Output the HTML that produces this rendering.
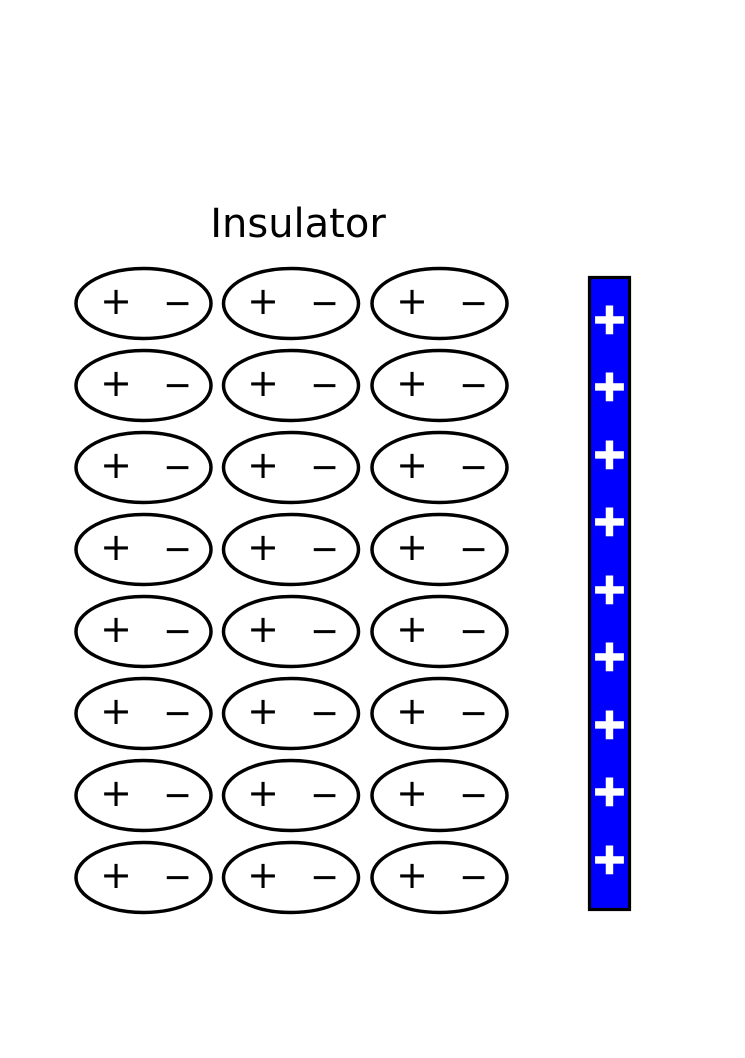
<!DOCTYPE html>
<html><head><style>html,body{margin:0;padding:0;background:#fff}</style></head>
<body>
<svg width="745" height="1053" xmlns="http://www.w3.org/2000/svg" font-family="DejaVu Sans, Liberation Sans, sans-serif">
<text x="298" y="237" font-size="40" text-anchor="middle">Insulator</text>
<g stroke="#000" stroke-width="3.5" fill="none">
  <ellipse cx="143.5" cy="303.5" rx="67.5" ry="35"/><ellipse cx="291" cy="303.5" rx="67.5" ry="35"/><ellipse cx="439.5" cy="303.5" rx="67.5" ry="35"/>
  <ellipse cx="143.5" cy="385.5" rx="67.5" ry="35"/><ellipse cx="291" cy="385.5" rx="67.5" ry="35"/><ellipse cx="439.5" cy="385.5" rx="67.5" ry="35"/>
  <ellipse cx="143.5" cy="467.5" rx="67.5" ry="35"/><ellipse cx="291" cy="467.5" rx="67.5" ry="35"/><ellipse cx="439.5" cy="467.5" rx="67.5" ry="35"/>
  <ellipse cx="143.5" cy="549.5" rx="67.5" ry="35"/><ellipse cx="291" cy="549.5" rx="67.5" ry="35"/><ellipse cx="439.5" cy="549.5" rx="67.5" ry="35"/>
  <ellipse cx="143.5" cy="631.5" rx="67.5" ry="35"/><ellipse cx="291" cy="631.5" rx="67.5" ry="35"/><ellipse cx="439.5" cy="631.5" rx="67.5" ry="35"/>
  <ellipse cx="143.5" cy="713.5" rx="67.5" ry="35"/><ellipse cx="291" cy="713.5" rx="67.5" ry="35"/><ellipse cx="439.5" cy="713.5" rx="67.5" ry="35"/>
  <ellipse cx="143.5" cy="795.5" rx="67.5" ry="35"/><ellipse cx="291" cy="795.5" rx="67.5" ry="35"/><ellipse cx="439.5" cy="795.5" rx="67.5" ry="35"/>
  <ellipse cx="143.5" cy="877.5" rx="67.5" ry="35"/><ellipse cx="291" cy="877.5" rx="67.5" ry="35"/><ellipse cx="439.5" cy="877.5" rx="67.5" ry="35"/>
</g>
<g font-size="38" text-anchor="middle" fill="#000">
  <text x="116" y="314">+</text><text x="263" y="314">+</text><text x="412" y="314">+</text>
  <text x="116" y="396">+</text><text x="263" y="396">+</text><text x="412" y="396">+</text>
  <text x="116" y="478">+</text><text x="263" y="478">+</text><text x="412" y="478">+</text>
  <text x="116" y="560">+</text><text x="263" y="560">+</text><text x="412" y="560">+</text>
  <text x="116" y="642">+</text><text x="263" y="642">+</text><text x="412" y="642">+</text>
  <text x="116" y="724">+</text><text x="263" y="724">+</text><text x="412" y="724">+</text>
  <text x="116" y="806">+</text><text x="263" y="806">+</text><text x="412" y="806">+</text>
  <text x="116" y="888">+</text><text x="263" y="888">+</text><text x="412" y="888">+</text>
</g>
<g font-size="36" fill="#000">
  <text x="163" y="315" textLength="29" lengthAdjust="spacingAndGlyphs">−</text><text x="310" y="315" textLength="29" lengthAdjust="spacingAndGlyphs">−</text><text x="459" y="315" textLength="29" lengthAdjust="spacingAndGlyphs">−</text>
  <text x="163" y="397" textLength="29" lengthAdjust="spacingAndGlyphs">−</text><text x="310" y="397" textLength="29" lengthAdjust="spacingAndGlyphs">−</text><text x="459" y="397" textLength="29" lengthAdjust="spacingAndGlyphs">−</text>
  <text x="163" y="479" textLength="29" lengthAdjust="spacingAndGlyphs">−</text><text x="310" y="479" textLength="29" lengthAdjust="spacingAndGlyphs">−</text><text x="459" y="479" textLength="29" lengthAdjust="spacingAndGlyphs">−</text>
  <text x="163" y="561" textLength="29" lengthAdjust="spacingAndGlyphs">−</text><text x="310" y="561" textLength="29" lengthAdjust="spacingAndGlyphs">−</text><text x="459" y="561" textLength="29" lengthAdjust="spacingAndGlyphs">−</text>
  <text x="163" y="643" textLength="29" lengthAdjust="spacingAndGlyphs">−</text><text x="310" y="643" textLength="29" lengthAdjust="spacingAndGlyphs">−</text><text x="459" y="643" textLength="29" lengthAdjust="spacingAndGlyphs">−</text>
  <text x="163" y="725" textLength="29" lengthAdjust="spacingAndGlyphs">−</text><text x="310" y="725" textLength="29" lengthAdjust="spacingAndGlyphs">−</text><text x="459" y="725" textLength="29" lengthAdjust="spacingAndGlyphs">−</text>
  <text x="163" y="807" textLength="29" lengthAdjust="spacingAndGlyphs">−</text><text x="310" y="807" textLength="29" lengthAdjust="spacingAndGlyphs">−</text><text x="459" y="807" textLength="29" lengthAdjust="spacingAndGlyphs">−</text>
  <text x="163" y="889" textLength="29" lengthAdjust="spacingAndGlyphs">−</text><text x="310" y="889" textLength="29" lengthAdjust="spacingAndGlyphs">−</text><text x="459" y="889" textLength="29" lengthAdjust="spacingAndGlyphs">−</text>
</g>
<rect x="589.5" y="277.5" width="40" height="632" fill="#0000ff" stroke="#000" stroke-width="3.2"/>
<g font-size="42" font-weight="bold" text-anchor="middle" fill="#fff" stroke="#fff" stroke-width="2.5">
  <text x="609.5" y="333">+</text><text x="609.5" y="400">+</text><text x="609.5" y="468">+</text>
  <text x="609.5" y="535">+</text><text x="609.5" y="603">+</text><text x="609.5" y="670">+</text>
  <text x="609.5" y="738">+</text><text x="609.5" y="805">+</text><text x="609.5" y="873">+</text>
</g>
</svg>
</body></html>
